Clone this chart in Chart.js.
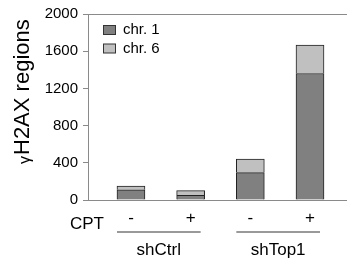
<!DOCTYPE html>
<html>
<head>
<meta charset="utf-8">
<script src="https://cdn.jsdelivr.net/npm/chart.js@4"></script>
<style>
html,body{margin:0;padding:0;background:#fff;}
#wrap{width:347px;height:259px;position:relative;}
</style>
</head>
<body>
<div id="wrap"><canvas id="c" width="347" height="259"></canvas></div>
<script>
// ---- data ----
const cptLabels = ['-', '+', '-', '+'];
const groups = ['shCtrl', 'shTop1'];
const chr1 = [110, 50, 295, 1360];
const chr6 = [40, 50, 145, 305];
const seriesNames = ['chr. 1', 'chr. 6'];
const yTicks = [0, 400, 800, 1200, 1600, 2000];
const yTitleGreek = 'γ';
const yTitleRest = 'H2AX regions';
const rowLabel = 'CPT';

const colors = ['#808080', '#c0c0c0'];
const FONT = '"Liberation Sans", Arial, sans-serif';

const toPts = arr => arr.map((v, i) => ({x: i + 1, y: v}));

const deco = {
  id: 'deco',
  afterDraw(chart) {
    const ctx = chart.ctx;
    const a = chart.chartArea;
    const xs = chart.scales.x;
    const ys = chart.scales.y;
    ctx.save();
    // top border line and baseline axis spanning to the right edge
    ctx.strokeStyle = '#8a8a8a';
    ctx.lineWidth = 1;
    ctx.beginPath();
    ctx.moveTo(a.left, a.top + 0.5);
    ctx.lineTo(chart.width, a.top + 0.5);
    const yb = Math.round(ys.getPixelForValue(0)) + 0.5;
    ctx.moveTo(a.left, yb);
    ctx.lineTo(chart.width, yb);
    ctx.stroke();

    // CPT label
    ctx.fillStyle = '#000';
    ctx.font = '17px ' + FONT;
    ctx.textAlign = 'left';
    ctx.textBaseline = 'middle';
    ctx.fillText(rowLabel, 70, 224);

    // group underlines + labels
    groups.forEach((g, gi) => {
      const x1 = xs.getPixelForValue(gi * 2 + 1) - 14;
      const x2 = xs.getPixelForValue(gi * 2 + 2) + 10;
      ctx.strokeStyle = '#777';
      ctx.lineWidth = 1.5;
      ctx.beginPath();
      ctx.moveTo(x1, 232);
      ctx.lineTo(x2, 232);
      ctx.stroke();
      ctx.fillStyle = '#000';
      ctx.font = '17px ' + FONT;
      ctx.textAlign = 'center';
      ctx.textBaseline = 'middle';
      ctx.fillText(g, (x1 + x2) / 2, 250);
    });

    // legend
    seriesNames.forEach((n, i) => {
      const y = 25 + i * 18.5;
      ctx.fillStyle = colors[i];
      ctx.fillRect(103.5, y + 0.5, 12, 9);
      ctx.strokeStyle = '#333';
      ctx.lineWidth = 1;
      ctx.strokeRect(103.5, y + 0.5, 12, 9);
      ctx.fillStyle = '#000';
      ctx.font = '15px ' + FONT;
      ctx.textAlign = 'left';
      ctx.textBaseline = 'middle';
      ctx.fillText(n, 123, y + 5);
    });

    // y title (rotated)
    ctx.translate(29, 164);
    ctx.rotate(-Math.PI / 2);
    ctx.textAlign = 'left';
    ctx.textBaseline = 'alphabetic';
    ctx.font = '16px ' + FONT;
    ctx.fillStyle = '#000';
    ctx.fillText(yTitleGreek, 0, 1);
    const gw = ctx.measureText(yTitleGreek).width;
    ctx.font = '22px ' + FONT;
    ctx.fillText(yTitleRest, gw + 1, 0);
    ctx.restore();
  }
};

new Chart(document.getElementById('c'), {
  type: 'bar',
  data: {
    datasets: [
      {label: seriesNames[0], data: toPts(chr1), backgroundColor: colors[0], borderColor: '#222', borderWidth: 1, barThickness: 28},
      {label: seriesNames[1], data: toPts(chr6), backgroundColor: colors[1], borderColor: '#222', borderWidth: 1, barThickness: 28}
    ]
  },
  options: {
    responsive: false,
    animation: false,
    layout: {autoPadding: false, padding: {top: 13, left: 0, right: 0, bottom: 0}},
    plugins: {legend: {display: false}, tooltip: {enabled: false}},
    scales: {
      x: {
        type: 'linear',
        stacked: true,
        offset: false,
        min: 0.28,
        max: 4.62,
        afterBuildTicks: s => { s.ticks = cptLabels.map((_, i) => ({value: i + 1})); },
        afterFit: s => { s.height = 59; s.paddingRight = 0; s.paddingLeft = 0; },
        grid: {display: false, drawTicks: false, offset: false},
        border: {display: false},
        ticks: {
          callback: v => cptLabels[v - 1],
          font: {size: 17, family: FONT},
          color: '#000',
          padding: 8,
          maxRotation: 0,
          autoSkip: false
        }
      },
      y: {
        stacked: true,
        min: 0,
        max: 2000,
        afterBuildTicks: s => { s.ticks = yTicks.map(v => ({value: v})); },
        afterFit: s => { s.width = 88; },
        grid: {drawOnChartArea: false, drawTicks: true, tickLength: 5, color: '#8a8a8a'},
        border: {display: true, color: '#8a8a8a', width: 1},
        ticks: {font: {size: 15, family: FONT}, color: '#000', padding: 5, callback: v => String(v)}
      }
    }
  },
  plugins: [deco]
});
</script>
</body>
</html>
